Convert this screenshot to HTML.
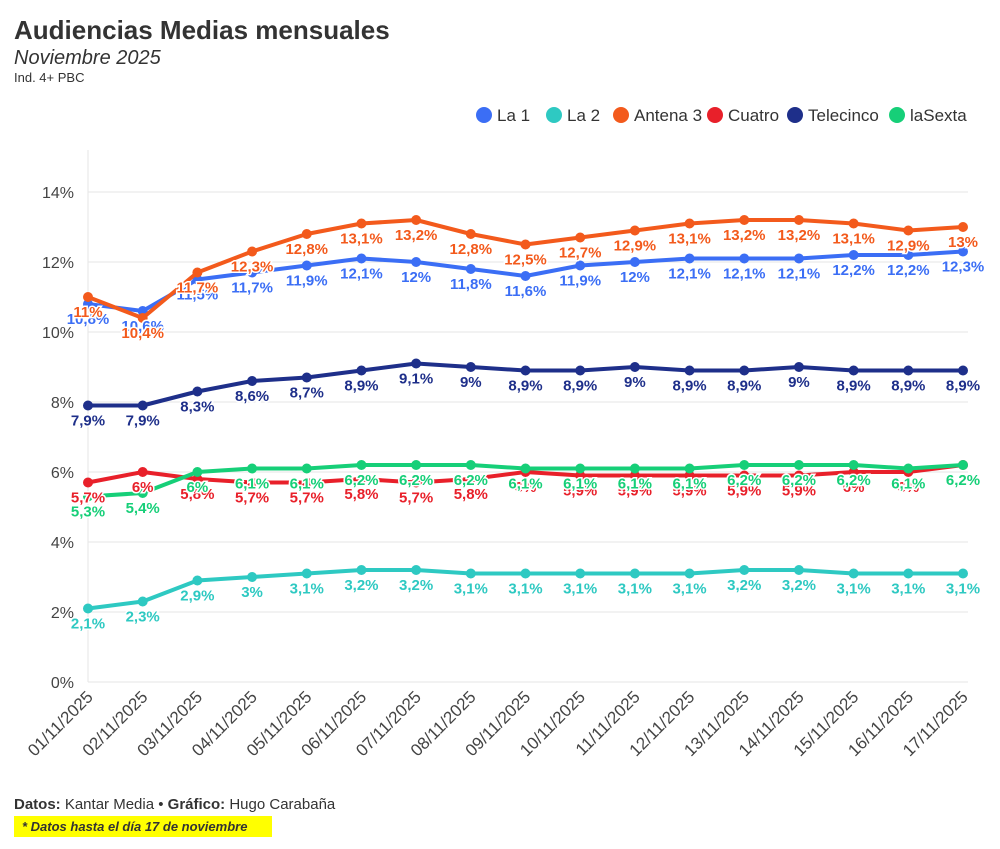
<!DOCTYPE html>
<html><head><meta charset="utf-8">
<style>
body{margin:0;background:#fff;font-family:"Liberation Sans",sans-serif;}
#wrap{position:relative;width:1000px;height:849px;overflow:hidden;}
</style></head><body>
<div id="wrap">
<svg id="chart" width="1000" height="849"></svg>
</div>
<script>
const dates=["01/11/2025","02/11/2025","03/11/2025","04/11/2025","05/11/2025","06/11/2025","07/11/2025","08/11/2025","09/11/2025","10/11/2025","11/11/2025","12/11/2025","13/11/2025","14/11/2025","15/11/2025","16/11/2025","17/11/2025"];
const yTicks=[0,2,4,6,8,10,12,14];
const la1=[10.8,10.6,11.5,11.7,11.9,12.1,12,11.8,11.6,11.9,12,12.1,12.1,12.1,12.2,12.2,12.3];
const la2=[2.1,2.3,2.9,3,3.1,3.2,3.2,3.1,3.1,3.1,3.1,3.1,3.2,3.2,3.1,3.1,3.1];
const antena3=[11,10.4,11.7,12.3,12.8,13.1,13.2,12.8,12.5,12.7,12.9,13.1,13.2,13.2,13.1,12.9,13];
const cuatro=[5.7,6,5.8,5.7,5.7,5.8,5.7,5.8,6,5.9,5.9,5.9,5.9,5.9,6,6,6.2];
const telecinco=[7.9,7.9,8.3,8.6,8.7,8.9,9.1,9,8.9,8.9,9,8.9,8.9,9,8.9,8.9,8.9];
const lasexta=[5.3,5.4,6,6.1,6.1,6.2,6.2,6.2,6.1,6.1,6.1,6.1,6.2,6.2,6.2,6.1,6.2];
const series=[
 {name:"La 1",vals:la1,color:"#3b6ef5"},
 {name:"La 2",vals:la2,color:"#2ec9c2"},
 {name:"Antena 3",vals:antena3,color:"#f35a1c"},
 {name:"Cuatro",vals:cuatro,color:"#e8202a"},
 {name:"Telecinco",vals:telecinco,color:"#1e2f8a"},
 {name:"laSexta",vals:lasexta,color:"#16cf78"}
];
const svg=document.getElementById('chart');
const NS="http://www.w3.org/2000/svg";
const x0=88,x1=963,yBase=682,yTop=192;
const xs=i=>x0+(x1-x0)*i/(dates.length-1);
const ys=v=>yBase-(yBase-yTop)*v/14;
function el(t,a,p){const e=document.createElementNS(NS,t);for(const k in a)e.setAttribute(k,a[k]);(p||svg).appendChild(e);return e;}
function txt(s,a,p){const e=el('text',a,p);e.textContent=s;return e;}
const fmt=v=>String(v).replace('.',',')+'%';
let t=txt("Audiencias Medias mensuales",{x:14,y:39,'font-size':26,'font-weight':'bold',fill:'#333'});

t=txt("Noviembre 2025",{x:14,y:64,'font-size':20,'font-style':'italic',fill:'#333'});

t=txt("Ind. 4+ PBC",{x:14,y:82,'font-size':13,fill:'#333'});

const legW=[70,67,94,80,102,80];let lx=475;
series.forEach((s,i)=>{const g=el('g',{});
 
 el('circle',{cx:lx+9,cy:115,r:8,fill:s.color},g);
 txt(s.name,{x:lx+22,y:121,'font-size':17,fill:'#333'},g);lx+=legW[i];});
yTicks.forEach(v=>{const l=el('line',{x1:x0,x2:968,y1:ys(v),y2:ys(v),stroke:'#e6e6e6','stroke-width':1});
 
 const tt=txt(v+'%',{x:74,y:ys(v)+6,'font-size':16,fill:'#444','text-anchor':'end'});
 });
el('line',{x1:x0,x2:x0,y1:150,y2:yBase,stroke:'#e6e6e6'});
dates.forEach((d,i)=>{const tt=txt(d,{x:0,y:0,'font-size':17,fill:'#444','text-anchor':'end',transform:`translate(${xs(i)+6},${yBase+16}) rotate(-45)`});
 });
series.forEach(s=>{const g=el('g',{});
 
 const p=el('path',{d:s.vals.map((v,i)=>(i?'L':'M')+xs(i)+','+ys(v)).join(''),fill:'none',stroke:s.color,'stroke-width':4,'stroke-linejoin':'round'},g);
 
 s.vals.forEach((v,i)=>{const c=el('circle',{cx:xs(i),cy:ys(v),r:5,fill:s.color},g);
  });});
series.forEach(s=>{s.vals.forEach((v,i)=>{
 const tt=txt(fmt(v),{x:xs(i),y:ys(v)+20,'font-size':15,'font-weight':'bold',fill:s.color,'text-anchor':'middle',stroke:'#fff','stroke-width':3,'paint-order':'stroke'});
 });});
t=txt("",{x:14,y:809,'font-size':15,fill:'#333'});
t.innerHTML='<tspan font-weight="bold">Datos:</tspan> Kantar Media • <tspan font-weight="bold">Gráfico:</tspan> Hugo Carabaña';

const r=el('rect',{x:14,y:816,width:258,height:21,fill:'#ffff00'});

t=txt("* Datos hasta el día 17 de noviembre",{x:22,y:831,'font-size':13,'font-weight':'bold','font-style':'italic',fill:'#333'});

</script>
</body></html>
